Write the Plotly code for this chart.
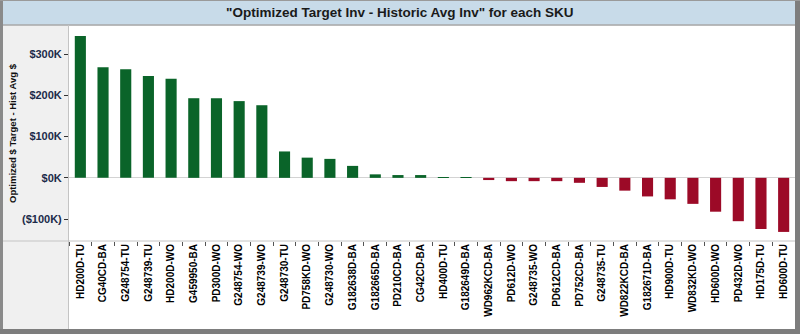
import plotly.graph_objects as go

skus = ["HD200D-TU", "CG40CD-BA", "G248754-TU", "G248739-TU", "HD200D-WO", "G459950-BA",
        "PD300D-WO", "G248754-WO", "G248739-WO", "G248730-TU", "PD758KD-WO", "G248730-WO",
        "G182638D-BA", "G182665D-BA", "PD210CD-BA", "CG42CD-BA", "HD400D-TU", "G182649D-BA",
        "WD962KCD-BA", "PD612D-WO", "G248735-WO", "PD612CD-BA", "PD752CD-BA", "G248735-TU",
        "WD822KCD-BA", "G182671D-BA", "HD900D-TU", "WD832KD-WO", "HD600D-WO", "PD432D-WO",
        "HD175D-TU", "HD600D-TU"]
diff_k = [344, 268, 263, 247, 240, 193, 193, 186, 176, 64, 49, 46,
          29, 8.5, 6.8, 6.8, 1.5, 0.8, -5.3, -8, -8, -8, -12, -22,
          -31, -45, -52, -63, -82, -105, -124, -131]
tick_vals = [300, 200, 100, 0, -100]
tick_text = ["$300K", "$200K", "$100K", "$0K", "($100K)"]

GREEN = "#0a6429"
RED = "#9c0a27"
colors = [GREEN if v > 0 else RED for v in diff_k]

W, H = 800, 334
L, R, T, B = 69, 5, 26, 93
pw = W - L - R
ph = H - T - B


def px_x(px):
    return (px - L) / pw


def px_y(py):
    return (H - B - py) / ph


fig = go.Figure(go.Bar(x=skus, y=diff_k, marker=dict(color=colors, line=dict(width=0)),
                       width=0.49))

shapes = [
    dict(type="rect", xref="paper", yref="paper", x0=px_x(68), x1=px_x(795), y0=px_y(329), y1=px_y(241),
         fillcolor="white", line=dict(width=0), layer="below"),
    dict(type="rect", xref="paper", yref="paper", x0=px_x(0), x1=px_x(800), y0=px_y(25), y1=px_y(0),
         fillcolor="#c8dbe9", line=dict(width=0), layer="below"),
    dict(type="line", xref="paper", yref="paper", x0=px_x(3), x1=px_x(795), y0=px_y(25), y1=px_y(25),
         line=dict(color="#a9a9a9", width=1.5)),
    dict(type="line", xref="paper", yref="paper", x0=px_x(68.5), x1=px_x(68.5), y0=px_y(329), y1=px_y(25),
         line=dict(color="#c4c4c4", width=1)),
    dict(type="line", xref="paper", yref="paper", x0=px_x(3), x1=px_x(795), y0=px_y(241), y1=px_y(241),
         line=dict(color="#c4c4c4", width=1)),
    dict(type="rect", xref="paper", yref="paper", x0=px_x(0), x1=px_x(3), y0=px_y(334), y1=px_y(0),
         fillcolor="#8a8a8a", line=dict(width=0)),
    dict(type="rect", xref="paper", yref="paper", x0=px_x(795), x1=px_x(800), y0=px_y(334), y1=px_y(0),
         fillcolor="#7d7d7d", line=dict(width=0)),
    dict(type="rect", xref="paper", yref="paper", x0=px_x(0), x1=px_x(800), y0=px_y(334), y1=px_y(329),
         fillcolor="#7d7d7d", line=dict(width=0)),
    dict(type="line", xref="paper", yref="paper", x0=px_x(0), x1=px_x(800), y0=px_y(0.5), y1=px_y(0.5),
         line=dict(color="#9a9a9a", width=1)),
]

annotations = [
    dict(text="<b>\"Optimized Target Inv - Historic Avg Inv\" for each SKU</b>", xref="paper", yref="paper",
         x=px_x(400), y=px_y(12.5), showarrow=False, xanchor="center", yanchor="middle",
         font=dict(family="Liberation Sans", size=13.5, color="#1a1a1a")),
    dict(text="<b>Optimized $ Target - Hist Avg $</b>", xref="paper", yref="paper",
         x=px_x(12), y=px_y(133), showarrow=False, textangle=-90, xanchor="center", yanchor="middle",
         font=dict(family="Liberation Sans", size=9.5, color="#111111")),
]

fig.update_layout(
    width=W, height=H,
    margin=dict(l=L, r=R, t=T, b=B, pad=0),
    paper_bgcolor="#f0f0f0",
    plot_bgcolor="white",
    showlegend=False,
    bargap=0.51,
    shapes=shapes,
    annotations=annotations,
    xaxis=dict(
        type="category", tickangle=-90, tickson="boundaries", ticks="outside", ticklen=4,
        tickcolor="#555555", tickwidth=1, showgrid=False, showline=False, zeroline=False,
        tickfont=dict(family="Liberation Sans", size=10, color="#000000", weight="bold"),
        automargin=False, range=[-0.5, len(skus) - 0.5],
    ),
    yaxis=dict(
        range=[-153, 368], tickvals=tick_vals, ticktext=tick_text, ticks="outside", ticklen=4,
        tickcolor="#333333", showgrid=False, showline=False, zeroline=True,
        zerolinecolor="#d3d3d3", zerolinewidth=1,
        tickfont=dict(family="Liberation Sans", size=11, color="#1c2b4a", weight="bold"),
        automargin=False,
    ),
)

fig.write_html("out.html")
